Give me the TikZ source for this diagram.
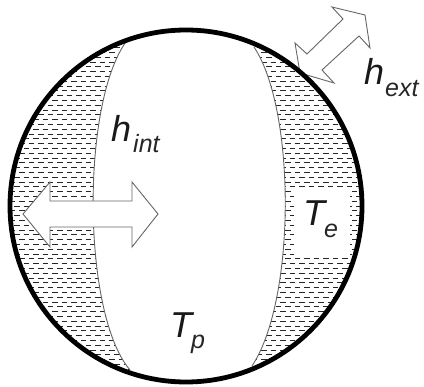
\documentclass[tikz,border=0pt]{standalone}
\usepackage{fontspec}
\setmainfont{Liberation Sans}
\begin{document}
\begin{tikzpicture}[x=1pt,y=-1pt,
  bigtxt/.style={inner sep=0pt,font=\fontsize{36}{36}\selectfont\itshape,anchor=base west,text=black!90},
  subtxt/.style={inner sep=0pt,font=\fontsize{25}{25}\selectfont\itshape,anchor=base west,text=black!85},
  hatchrow/.style={draw=black!85,line width=0.85pt},
  duct/.style={draw=black!60,fill=white,line width=0.9pt,line join=miter},
  layerline/.style={draw=black!60,line width=0.9pt}]
\useasboundingbox (0,0) rectangle (424,387);
\coordinate (c) at (186,206);
% hatching
\begin{scope}
  \clip (c) circle (176);
  \foreach \i in {0,...,70}{
    \pgfmathsetmacro{\yy}{38+4.8*\i}
    \pgfmathsetmacro{\ph}{mod(\i,2)*4.8}
    \draw[hatchrow,dash pattern=on 5.5pt off 4pt,dash phase=\ph pt] (0,\yy) -- (424,\yy);
  }
\end{scope}
% unhatched core and label patch
\fill[white] (129,38) .. controls (81,95) and (81,313) .. (130,370) -- (130,395) -- (252,395) -- (252,366)
  .. controls (296,300) and (296,110) .. (254,47) -- (254,20) -- (129,20) -- cycle;
\fill[white] (294,187) rectangle (350,258);
% layer boundaries
\draw[layerline] (129,38) .. controls (81,95) and (81,313) .. (130,370);
\draw[layerline] (254,47) .. controls (296,110) and (296,300) .. (252,366);
% arrows
\draw[duct] (23,214) -- (50,182) -- (50,201) -- (132,201) -- (132,182) -- (158,214) -- (132,247) -- (132,227) -- (50,227) -- (50,247) -- cycle;
\draw[duct] (332,7) -- (365,15) -- (370,48) -- (359,36) -- (322,70) -- (334,83) -- (300,73) -- (295,43) -- (307,54) -- (343,19) -- cycle;
% shell
\draw[line width=4.8pt,black] (c) circle (176);
% labels
\node[bigtxt] (hi) at (111,142) {h};
\node[subtxt] (hisub) at (133,153) {int};
\node[bigtxt] (he) at (364,85) {h};
\node[subtxt] (hesub) at (385,97) {ext};
\node[bigtxt] (te) at (303,226) {T};
\node[subtxt] (tesub) at (324,238) {e};
\node[bigtxt] (tp) at (170,338) {T};
\node[subtxt] (tpsub) at (191,349) {p};
\end{tikzpicture}
\end{document}
